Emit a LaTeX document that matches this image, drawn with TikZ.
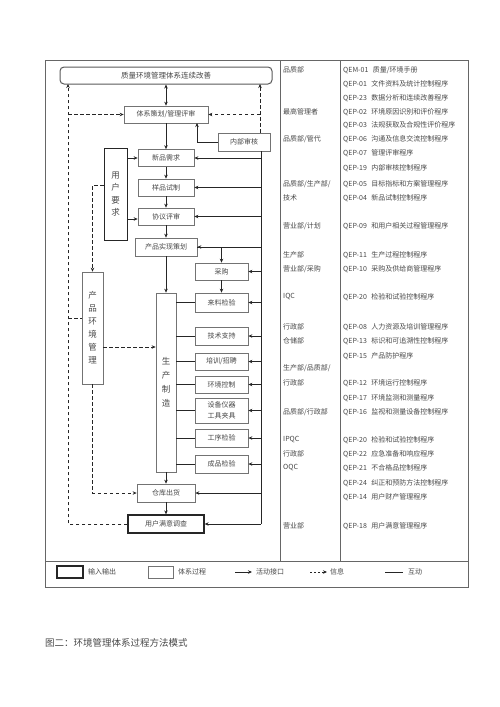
\documentclass[tikz,border=0pt]{standalone}
\usepackage{fontspec}
\setmainfont{Noto Sans CJK SC}
\usetikzlibrary{arrows.meta}
\newcommand\cg{\hspace{4.5pt}}
\tikzset{
  box/.style={draw=black!55, line width=0.7pt, inner sep=0pt, font=\fontsize{7}{9}\selectfont, text=black!72, align=center},
  iobox/.style={box, draw=black!85, line width=1.3pt},
  arr/.style={-{Stealth[length=4pt,width=3.5pt]}, line width=0.8pt, draw=black!85},
  darr/.style={arr, dash pattern=on 3.5pt off 2.5pt},
  ln/.style={line width=0.8pt, draw=black!85},
  frame/.style={line width=0.7pt, draw=black!60},
  tx/.style={anchor=west, inner sep=0pt, font=\fontsize{7}{9}\selectfont, text=black!72},
}
\begin{document}
\begin{tikzpicture}[x=1pt,y=-1pt]
\useasboundingbox (0,0) rectangle (500,707);
% frame
\draw[frame] (45,60) rectangle (468,587);
\draw[frame] (45,561) -- (468,561);
\draw[frame] (280,60) -- (280,561);
\draw[frame] (340,60) -- (340,561);

% nodes
\node[box, draw=black!65, line width=1pt, rounded corners=4pt, minimum width=212pt, minimum height=17pt, font=\fontsize{7.5}{9}\selectfont] (top) at (166,75.5) {质量环境管理体系连续改善};
\node[box, minimum width=84pt, minimum height=17pt] (plan) at (166,114.5) {体系策划/管理评审};
\node[box, minimum width=52pt, minimum height=18pt] (audit) at (244,142) {内部审核};
\node[box, minimum width=56pt, minimum height=17pt] (new) at (166,158) {新品需求};
\node[box, minimum width=56pt, minimum height=17pt] (sample) at (166,187.5) {样品试制};
\node[box, minimum width=56pt, minimum height=17pt] (agree) at (166,216.5) {协议评审};
\node[box, minimum width=62pt, minimum height=18pt] (real) at (166,247) {产品实现策划};
\node[iobox, line width=1pt, minimum width=23pt, minimum height=92pt, font=\fontsize{8.5}{12.5}\selectfont] (ureq) at (115.5,194) {用\\户\\要\\求};
\node[box, minimum width=21pt, minimum height=112pt, font=\fontsize{8.5}{13}\selectfont] (pem) at (92.5,328) {产\\品\\环\\境\\管\\理};
\node[box, minimum width=20pt, minimum height=179pt, font=\fontsize{8.5}{14}\selectfont] (prod) at (166,382.5) {生\\产\\制\\造};
\node[box, minimum width=53pt, minimum height=17pt] (buy) at (221.5,271.5) {采购};
\node[box, minimum width=53pt, minimum height=19pt] (inc) at (221.5,302.5) {来料检验};
\node[box, minimum width=53pt, minimum height=18pt] (tech) at (221.5,336) {技术支持};
\node[box, minimum width=53pt, minimum height=17pt] (train) at (221.5,361.5) {培训/招聘};
\node[box, minimum width=53pt, minimum height=17pt] (envc) at (221.5,384.5) {环境控制};
\node[box, minimum width=53pt, minimum height=25pt, font=\fontsize{7}{11}\selectfont] (equip) at (221.5,410.5) {设备仪器\\工具夹具};
\node[box, minimum width=53pt, minimum height=18pt] (pinsp) at (221.5,438) {工序检验};
\node[box, minimum width=53pt, minimum height=18pt] (fin) at (221.5,464) {成品检验};
\node[box, minimum width=58pt, minimum height=18pt] (ship) at (166,493) {仓库出货};
\node[iobox, minimum width=76pt, minimum height=18pt] (sat) at (166,524) {用户满意调查};

% coordinates
\coordinate (lt) at (68,84);
\coordinate (rt) at (260,84);
\coordinate (R) at (261,0);
\coordinate (auy) at (197,123);
\coordinate (c318) at (0,318);
\coordinate (c347) at (0,347);
\coordinate (c185) at (0,185);
\coordinate (c219) at (0,219);

% main flow
\draw[arr, {Stealth[length=4pt,width=3.5pt]}-{Stealth[length=4pt,width=3.5pt]}] (plan.north) -- (top.south);
\draw[arr] (plan.south) -- (new.north);
\draw[arr] (new.south) -- (sample.north);
\draw[arr] (sample.south) -- (agree.north);
\draw[arr] (agree.south) -- (real.north);
\draw[arr] (real.south) -- (prod.north);
\draw[arr] (prod.south) -- (ship.north);
\draw[arr] (ship.south) -- (sat.north);
\draw[arr] (audit.west) -| (auy);
\draw[arr] (real.east) -| (buy.north);
\draw[arr] (buy.south) -- (inc.north);
\draw[arr] (ureq.east |- new.west) -- (new.west);
\draw[arr] (ureq.east |- c219) -- (agree.west |- c219);

% production lines
\foreach \b in {inc,tech,train,envc,equip,pinsp,fin}
  \draw[ln] (prod.east |- \b.west) -- (\b.west);

% right bus
\draw[ln] (audit.south -| R) -- (sat.east -| R);
\foreach \b in {new,sample,agree,real,buy,inc,tech,train,envc,equip,pinsp,fin,ship,sat}
  \draw[arr] (R |- \b.east) -- (\b.east);

% dashed info
\draw[darr] (sat.west) -| (lt);
\draw[darr] (plan.west -| lt) -- (plan.west);
\draw[darr] (audit.north -| rt) -- (rt);
\draw[darr] (plan.east -| rt) -- (plan.east);
\draw[ln, dash pattern=on 3.5pt off 2.5pt] (lt |- c318) -- (pem.west |- c318);
\draw[darr] (ureq.west |- c185) -| (pem.north);
\draw[darr] (pem.south) |- (ship.west);
\draw[darr] (pem.east |- c347) -- (prod.west |- c347);

% table
\node[tx] (d1) at (283,70) {品质部};
\node[tx] (d2) at (283,112) {最高管理者};
\node[tx] (d3) at (283,139) {品质部/管代};
\node[tx] (d4) at (283,184) {品质部/生产部/};
\node[tx] (d5) at (283,198) {技术};
\node[tx] (d6) at (283,226) {营业部/计划};
\node[tx] (d7) at (283,255) {生产部};
\node[tx] (d8) at (283,269) {营业部/采购};
\node[tx] (d9) at (283,297) {IQC};
\node[tx] (d10) at (283,327) {行政部};
\node[tx] (d11) at (283,341) {仓储部};
\node[tx] (d12) at (283,368) {生产部/品质部/};
\node[tx] (d13) at (283,383) {行政部};
\node[tx] (d14) at (283,412) {品质部/行政部};
\node[tx] (d15) at (283,440) {IPQC};
\node[tx] (d16) at (283,454) {行政部};
\node[tx] (d17) at (283,468) {OQC};
\node[tx] (d18) at (283,526) {营业部};

\node[tx] (p1) at (343,70) {QEM-01\cg 质量/环境手册};
\node[tx] (p2) at (343,84) {QEP-01\cg 文件资料及统计控制程序};
\node[tx] (p3) at (343,98) {QEP-23\cg 数据分析和连续改善程序};
\node[tx] (p4) at (343,112) {QEP-02\cg 环境原因识别和评价程序};
\node[tx] (p5) at (343,125) {QEP-03\cg 法规获取及合规性评价程序};
\node[tx] (p6) at (343,139) {QEP-06\cg 沟通及信息交流控制程序};
\node[tx] (p7) at (343,153) {QEP-07\cg 管理评审程序};
\node[tx] (p8) at (343,168) {QEP-19\cg 内部审核控制程序};
\node[tx] (p9) at (343,184) {QEP-05\cg 目标指标和方案管理程序};
\node[tx] (p10) at (343,198) {QEP-04\cg 新品试制控制程序};
\node[tx] (p11) at (343,226) {QEP-09\cg 和用户相关过程管理程序};
\node[tx] (p12) at (343,255) {QEP-11\cg 生产过程控制程序};
\node[tx] (p13) at (343,269) {QEP-10\cg 采购及供给商管理程序};
\node[tx] (p14) at (343,297) {QEP-20\cg 检验和试验控制程序};
\node[tx] (p15) at (343,327) {QEP-08\cg 人力资源及培训管理程序};
\node[tx] (p16) at (343,341) {QEP-13\cg 标识和可追溯性控制程序};
\node[tx] (p17) at (343,356) {QEP-15\cg 产品防护程序};
\node[tx] (p18) at (343,383) {QEP-12\cg 环境运行控制程序};
\node[tx] (p19) at (343,398) {QEP-17\cg 环境监测和测量程序};
\node[tx] (p20) at (343,412) {QEP-16\cg 监视和测量设备控制程序};
\node[tx] (p21) at (343,440) {QEP-20\cg 检验和试验控制程序};
\node[tx] (p22) at (343,454) {QEP-22\cg 应急准备和响应程序};
\node[tx] (p23) at (343,468) {QEP-21\cg 不合格品控制程序};
\node[tx] (p24) at (343,483) {QEP-24\cg 纠正和预防方法控制程序};
\node[tx] (p25) at (343,497) {QEP-14\cg 用户财产管理程序};
\node[tx] (p26) at (343,526) {QEP-18\cg 用户满意管理程序};

% legend
\node[iobox, minimum width=26pt, minimum height=12pt] (lio) at (70,572) {};
\node[tx] (lio t) at (88,572) {输入输出};
\node[box, minimum width=25pt, minimum height=12pt] (lsp) at (160.5,572) {};
\node[tx] (lsp t) at (178,572) {体系过程};
\coordinate (la1) at (235,572); \coordinate (la2) at (252,572);
\draw[arr] (la1) -- (la2);
\node[tx] (la t) at (256,572) {活动接口};
\coordinate (lb1) at (310,572); \coordinate (lb2) at (327,572);
\draw[darr, dash pattern=on 2pt off 2pt] (lb1) -- (lb2);
\node[tx] (lb t) at (330,572) {信息};
\coordinate (lc1) at (385,572); \coordinate (lc2) at (403,572);
\draw[ln] (lc1) -- (lc2);
\node[tx] (lc t) at (408,572) {互动};

% caption
\node[tx, font=\fontsize{9.5}{11}\selectfont] (cap) at (45,643) {图二：环境管理体系过程方法模式};
\end{tikzpicture}
\end{document}
